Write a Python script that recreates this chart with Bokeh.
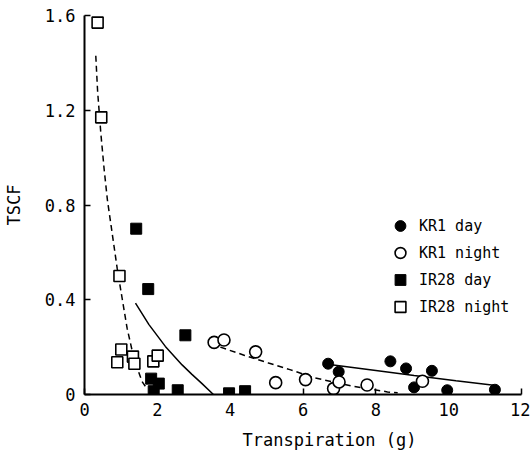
from bokeh.plotting import figure
from bokeh.models import FixedTicker, Title, Range1d
from bokeh.embed import file_html
from bokeh.resources import INLINE

# ---- data ----
kr1_day_x = [6.69, 6.98, 8.40, 8.83, 9.54, 9.05, 9.96, 11.27]
kr1_day_y = [0.13, 0.096, 0.14, 0.11, 0.10, 0.03, 0.018, 0.02]

kr1_night_x = [3.56, 3.83, 4.70, 5.25, 6.07, 6.84, 6.99, 7.76, 9.28]
kr1_night_y = [0.22, 0.23, 0.18, 0.05, 0.063, 0.025, 0.053, 0.04, 0.056]

ir28_day_x = [1.42, 1.75, 2.77, 1.83, 2.04, 1.90, 2.56, 3.97, 4.41]
ir28_day_y = [0.70, 0.445, 0.25, 0.067, 0.046, 0.014, 0.018, 0.005, 0.014]

ir28_night_x = [0.36, 0.46, 0.96, 1.01, 0.90, 1.33, 1.37, 1.89, 2.01]
ir28_night_y = [1.57, 1.17, 0.50, 0.19, 0.136, 0.16, 0.13, 0.14, 0.164]

# fitted curves
fit_kr1_day_x = [6.78, 8.0, 9.05, 10.2, 11.24]
fit_kr1_day_y = [0.126, 0.101, 0.080, 0.058, 0.039]

fit_kr1_night_x = [3.73, 4.4, 5.05, 5.64, 6.32, 7.37, 8.32, 8.6]
fit_kr1_night_y = [0.20, 0.165, 0.133, 0.105, 0.07, 0.035, 0.011, 0.007]

fit_ir28_day_x = [1.40, 1.77, 2.22, 2.68, 2.95, 3.22, 3.54]
fit_ir28_day_y = [0.386, 0.295, 0.203, 0.125, 0.085, 0.047, 0.0]

fit_ir28_night_x = [0.31, 0.36, 0.45, 0.54, 0.63, 0.77, 0.90, 1.04, 1.17, 1.36, 1.58, 1.67]
fit_ir28_night_y = [1.43, 1.28, 1.10, 0.95, 0.82, 0.67, 0.53, 0.40, 0.28, 0.15, 0.055, 0.035]

x_ticks = [0, 2, 4, 6, 8, 10, 12]
y_ticks = [0, 0.4, 0.8, 1.2, 1.6]
y_tick_labels = ["0", "0.4", "0.8", "1.2", "1.6"]

FONT = "DejaVu Sans Mono"

p = figure(width=530, height=459, x_range=Range1d(0, 12), y_range=Range1d(0, 1.6),
           output_backend="svg", toolbar_location=None,
           min_border_left=82, min_border_right=9, min_border_top=15, min_border_bottom=64)
p.outline_line_color = None
p.xgrid.grid_line_color = None
p.ygrid.grid_line_color = None
p.background_fill_color = "white"
p.border_fill_color = "white"

# curves
p.line(fit_ir28_night_x, fit_ir28_night_y, line_color="black", line_width=1.5, line_dash="6 4")
p.line(fit_ir28_day_x, fit_ir28_day_y, line_color="black", line_width=1.5)
p.line(fit_kr1_night_x, fit_kr1_night_y, line_color="black", line_width=1.5, line_dash="6 4")
p.line(fit_kr1_day_x, fit_kr1_day_y, line_color="black", line_width=1.5)

# points
p.scatter(kr1_day_x, kr1_day_y, marker="circle", size=11, fill_color="black",
          line_color="black", legend_label="KR1 day")
p.scatter(kr1_night_x, kr1_night_y, marker="circle", size=12, fill_color="white",
          line_color="black", line_width=1.6, legend_label="KR1 night")
p.scatter(ir28_day_x, ir28_day_y, marker="square", size=11, fill_color="black",
          line_color="black", legend_label="IR28 day")
p.scatter(ir28_night_x, ir28_night_y, marker="square", size=11, fill_color="white",
          line_color="black", line_width=1.6, legend_label="IR28 night")

# axes
for ax in (p.xaxis[0], p.yaxis[0]):
    ax.axis_line_width = 2
    ax.axis_line_color = "black"
    ax.major_tick_in = 6
    ax.major_tick_out = 0
    ax.major_tick_line_width = 1.5
    ax.major_tick_line_color = "black"
    ax.minor_tick_line_color = None
    ax.major_label_text_font = FONT
    ax.major_label_text_font_size = "17px"
    ax.major_label_text_color = "black"

p.xaxis.ticker = FixedTicker(ticks=x_ticks)
p.xaxis.major_label_standoff = 8
p.yaxis.ticker = FixedTicker(ticks=y_ticks)
p.yaxis.major_label_overrides = {t: s for t, s in zip(y_ticks, y_tick_labels)}
p.yaxis.major_label_standoff = 9

p.yaxis.axis_label = "TSCF"
p.yaxis.axis_label_text_font = FONT
p.yaxis.axis_label_text_font_size = "17px"
p.yaxis.axis_label_text_font_style = "normal"
p.yaxis.axis_label_text_color = "black"
p.yaxis.axis_label_standoff = 18

xlabel = Title(text="Transpiration (g)", align="left", offset=158, standoff=19,
               text_font=FONT, text_font_size="17px", text_font_style="normal",
               text_color="black")
p.add_layout(xlabel, "below")

# legend
lg = p.legend[0]
lg.location = (302, 74)
lg.border_line_color = None
lg.background_fill_alpha = 0
lg.padding = 0
lg.margin = 0
lg.spacing = 0
lg.glyph_width = 28
lg.glyph_height = 27
lg.label_height = 27
lg.label_standoff = 5
lg.label_text_font = FONT
lg.label_text_font_size = "15px"
lg.label_text_color = "black"

open("out.html", "w").write(file_html(p, INLINE))
